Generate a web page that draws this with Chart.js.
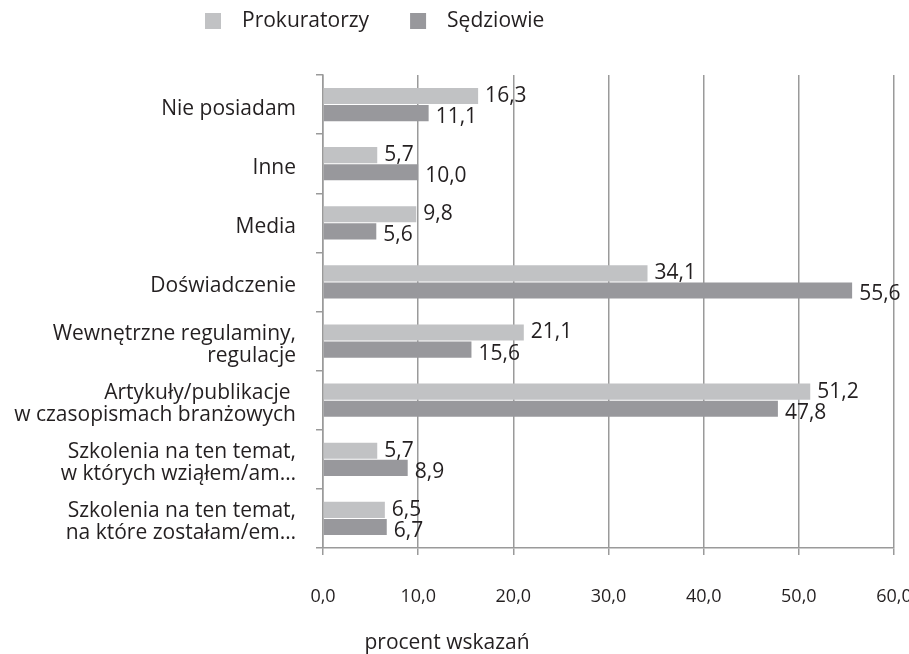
<!DOCTYPE html>
<html>
<head>
<meta charset="utf-8">
<script src="https://cdn.jsdelivr.net/npm/chart.js@4/dist/chart.umd.min.js"></script>
<style>
  html, body { margin: 0; padding: 0; background: #ffffff; }
  #wrap { width: 909px; height: 654px; position: relative; }
</style>
</head>
<body>
<div id="wrap"><canvas id="c" width="909" height="654"></canvas></div>
<script>
const categories = [
  "Nie posiadam",
  "Inne",
  "Media",
  "Doświadczenie",
  ["Wewnętrzne regulaminy,", "regulacje"],
  ["Artykuły/publikacje ", "w czasopismach branżowych"],
  ["Szkolenia na ten temat,", "w których wziąłem/am…"],
  ["Szkolenia na ten temat,", "na które zostałam/em…"]
];
const seriesNames = ["Prokuratorzy", "Sędziowie"];
const prokuratorzy = [16.3, 5.7, 9.8, 34.1, 21.1, 51.2, 5.7, 6.5];
const sedziowie = [11.1, 10.0, 5.6, 55.6, 15.6, 47.8, 8.9, 6.7];
const xTicks = [0, 10, 20, 30, 40, 50, 60];
const axisTitle = "procent wskazań";

const FONT = "'Open Sans', 'DejaVu Sans', sans-serif";
const TEXT = "#231f20";
const LIGHT = "#c1c2c4";
const DARK = "#98989c";
const GRID = "#9a9a9a";

const fmt = v => v.toFixed(1).replace(".", ",");

const valueLabels = {
  id: "valueLabels",
  afterDatasetsDraw(chart) {
    const ctx = chart.ctx;
    ctx.save();
    ctx.font = "21px " + FONT;
    ctx.fillStyle = TEXT;
    ctx.textAlign = "left";
    ctx.textBaseline = "middle";
    chart.data.datasets.forEach((ds, di) => {
      const meta = chart.getDatasetMeta(di);
      meta.data.forEach((bar, i) => {
        const dy = di === 0 ? 0 : 4;
        ctx.fillText(fmt(ds.data[i]), bar.x + 7, bar.y + dy);
      });
    });
    ctx.restore();
  }
};

const customLegend = {
  id: "customLegend",
  afterDraw(chart) {
    const ctx = chart.ctx;
    ctx.save();
    ctx.font = "21px " + FONT;
    ctx.textAlign = "left";
    ctx.textBaseline = "middle";
    const cy = 21;
    let x = 205;
    chart.data.datasets.forEach((ds) => {
      ctx.fillStyle = ds.backgroundColor;
      ctx.fillRect(x, cy - 8, 16, 16);
      ctx.fillStyle = TEXT;
      ctx.fillText(ds.label, x + 37, cy);
      const w = ctx.measureText(ds.label).width;
      x = x + 37 + w + 41;
    });
    ctx.restore();
  }
};

new Chart(document.getElementById("c"), {
  type: "bar",
  data: {
    labels: categories,
    datasets: [
      { label: seriesNames[0], data: prokuratorzy, backgroundColor: LIGHT, borderWidth: 0,
        categoryPercentage: 0.58, barPercentage: 0.94 },
      { label: seriesNames[1], data: sedziowie, backgroundColor: DARK, borderWidth: 0,
        categoryPercentage: 0.58, barPercentage: 0.94 }
    ]
  },
  options: {
    indexAxis: "y",
    responsive: false,
    animation: false,
    layout: { padding: { top: 75, right: 15, left: 0, bottom: 0 } },
    plugins: {
      legend: { display: false },
      tooltip: { enabled: false },
      title: {
        display: true,
        position: "bottom",
        text: axisTitle,
        color: TEXT,
        font: { family: FONT, size: 21, weight: "normal", lineHeight: 1.0 },
        padding: { top: 0, bottom: 0 }
      }
    },
    scales: {
      x: {
        type: "linear",
        min: 0,
        max: 60,
        afterBuildTicks(scale) { scale.ticks = xTicks.map(v => ({ value: v })); },
        afterFit(scale) {
          scale.height = 85;
          scale.paddingLeft = 0;
          scale.paddingRight = 0;
        },
        ticks: {
          color: TEXT,
          font: { family: FONT, size: 18 },
          padding: 31,
          callback: v => fmt(v)
        },
        grid: {
          color: GRID,
          lineWidth: 1.5,
          drawOnChartArea: true,
          drawTicks: true,
          tickLength: 7
        },
        border: { color: GRID, width: 1.5 }
      },
      y: {
        type: "category",
        afterFit(scale) {
          scale.width = 323;
          scale.paddingTop = 0;
          scale.paddingBottom = 0;
        },
        ticks: {
          color: TEXT,
          font: { family: FONT, size: 21, lineHeight: 1.05 },
          padding: 20,
          labelOffset: 4
        },
        grid: {
          offset: true,
          color: GRID,
          lineWidth: 1.5,
          drawOnChartArea: false,
          drawTicks: true,
          tickLength: 7
        },
        border: { color: GRID, width: 1.5 }
      }
    }
  },
  plugins: [valueLabels, customLegend]
});
</script>
</body>
</html>
